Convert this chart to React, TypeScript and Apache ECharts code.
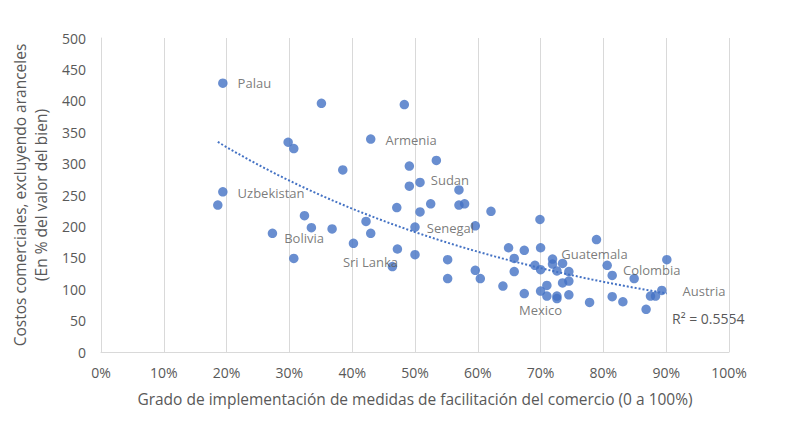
import React, { useEffect, useRef } from "react";
import * as echarts from "echarts";

// Grado de implementación (%) per country/point
const xs = [
  19.4, 35.1, 29.8, 30.7, 42.95, 38.5, 19.4, 18.6, 32.4, 33.5, 36.8, 27.3, 42.2, 42.95, 47.1,
  48.3, 49.1, 53.4, 49.1, 50.8, 57.0, 50.8, 52.5, 57.0, 57.9, 62.1, 69.9, 50.0, 59.6, 40.2,
  30.7, 47.2, 50.0, 46.4, 55.2, 55.2, 59.6, 60.4, 64.0, 64.9, 65.8, 65.8, 67.4, 67.4, 70.0,
  69.1, 70.0, 70.0, 71.0, 71.0, 71.9, 71.9, 72.6, 72.6, 72.6, 73.5, 74.5, 73.5, 74.5, 74.5,
  77.8, 78.9, 80.6, 81.4, 81.4, 83.1, 84.9, 86.8, 87.5, 88.3, 89.3, 90.1,
];
// Costos comerciales (% del valor del bien)
const ys = [
  428, 396, 334, 324, 339, 290, 255, 234, 217, 198, 196, 189, 208, 189, 230,
  394, 296, 305, 264, 270, 258, 223, 236, 234, 236, 224, 211, 199, 201, 173,
  149, 164, 155, 136, 147, 117, 130, 117, 105, 166, 149, 128, 162, 93, 166,
  138, 131, 97, 106, 89, 148, 140, 129, 89, 85, 141, 128, 110, 113, 91,
  79, 179, 138, 122, 88, 80, 117, 68, 89, 89, 98, 147,
];
// Point labels (empty = no label)
const names = [
  "Palau", "", "", "", "Armenia", "", "Uzbekistan", "", "", "", "", "Bolivia", "", "", "",
  "", "", "", "", "Sudan", "", "", "", "", "", "", "", "Senegal", "", "Sri Lanka",
  "", "", "", "", "", "", "", "", "", "", "", "", "", "", "",
  "", "", "Mexico", "", "", "Guatemala", "", "", "", "", "", "", "", "", "",
  "", "", "", "Colombia", "", "", "", "", "", "", "Austria", "",
];
const xTicks = [0, 10, 20, 30, 40, 50, 60, 70, 80, 90, 100];
const yTicks = [0, 50, 100, 150, 200, 250, 300, 350, 400, 450, 500];
const r2Text = "R² = 0.5554";
const xTitle = "Grado de implementación de medidas de facilitación del comercio (0 a 100%)";
const yTitle = "Costos comerciales, excluyendo aranceles\n(En % del valor del bien)";

// label placement (style, not data)
const labelOffsets: Record<string, { position: any; offset: number[] }> = {
  Palau: { position: "right", offset: [5, 0] },
  Armenia: { position: "right", offset: [5, 1] },
  Uzbekistan: { position: "right", offset: [5, 1] },
  Bolivia: { position: "right", offset: [2, 5] },
  Sudan: { position: "right", offset: [1, -2] },
  Senegal: { position: "right", offset: [2, 1] },
  "Sri Lanka": { position: "bottom", offset: [17, 2] },
  Mexico: { position: "bottom", offset: [0, 3] },
  Guatemala: { position: "right", offset: [-1, -5] },
  Colombia: { position: "right", offset: [1, -5] },
  Austria: { position: "right", offset: [11, 1] },
};

const BLUE = "#4472C4";
const GREY = "#595959";
const FONT = "'Open Sans', 'Segoe UI', sans-serif";

export default function App() {
  const ref = useRef<HTMLDivElement>(null);
  useEffect(() => {
    document.body.style.margin = "0";
    if (!ref.current) return;
    const chart = echarts.init(ref.current, null, { renderer: "svg" });

    // exponential trendline fitted from the data (ln y = ln a + b x)
    const n = xs.length;
    let sx = 0, sy = 0, sxx = 0, sxy = 0;
    for (let i = 0; i < n; i++) {
      const ly = Math.log(ys[i]);
      sx += xs[i]; sy += ly; sxx += xs[i] * xs[i]; sxy += xs[i] * ly;
    }
    const b = (n * sxy - sx * sy) / (n * sxx - sx * sx);
    const lnA = (sy - b * sx) / n;
    const xMin = Math.min(...xs), xMax = Math.max(...xs);
    const trend: number[][] = [];
    for (let k = 0; k <= 60; k++) {
      const x = xMin + ((xMax - xMin) * k) / 60;
      trend.push([x, Math.exp(lnA + b * x)]);
    }

    const points = xs.map((x, i) => {
      const nm = names[i];
      const item: any = { value: [x, ys[i]], name: nm };
      if (nm) {
        const lo = labelOffsets[nm];
        item.label = {
          show: true,
          formatter: nm,
          position: lo.position,
          offset: lo.offset,
          color: GREY,
          fontSize: 13,
          fontFamily: FONT,
        };
      }
      return item;
    });

    chart.setOption({
      animation: false,
      backgroundColor: "#ffffff",
      grid: { left: 101, right: 58, top: 38, bottom: 79, containLabel: false, outerBoundsMode: "none" },
      xAxis: {
        type: "value",
        min: xTicks[0],
        max: xTicks[xTicks.length - 1],
        interval: 10,
        name: xTitle,
        nameLocation: "middle",
        nameGap: 39,
        nameTextStyle: { color: GREY, fontSize: 15.5, fontFamily: FONT },
        axisLine: { show: true, lineStyle: { color: "#d9d9d9", width: 1 } },
        axisTick: { show: false },
        axisLabel: { color: GREY, fontSize: 14, fontFamily: FONT, margin: 13, formatter: (v: number) => v + "%" },
        splitLine: { show: true, lineStyle: { color: "#d9d9d9", width: 1 } },
      },
      yAxis: {
        type: "value",
        min: yTicks[0],
        max: yTicks[yTicks.length - 1],
        interval: 50,
        name: yTitle,
        nameLocation: "middle",
        nameRotate: 90,
        nameGap: 41,
        nameTextStyle: { color: GREY, fontSize: 15.5, fontFamily: FONT, lineHeight: 21, align: "center" },
        axisLine: { show: true, lineStyle: { color: "#d9d9d9", width: 1 } },
        axisTick: { show: false },
        axisLabel: { color: GREY, fontSize: 14, fontFamily: FONT, margin: 15 },
        splitLine: { show: false },
      },
      series: [
        {
          type: "line",
          data: trend,
          showSymbol: false,
          symbol: "none",
          smooth: false,
          lineStyle: { color: BLUE, width: 2, type: [2, 2] },
          silent: true,
          z: 1,
        },
        {
          type: "scatter",
          data: points,
          symbol: "circle",
          symbolSize: 9.5,
          itemStyle: { color: BLUE },
          z: 3,
        },
      ],
      graphic: [
        {
          type: "text",
          left: 672,
          top: 311,
          style: { text: r2Text, fill: GREY, fontSize: 14, fontFamily: FONT },
        },
      ],
    });
    return () => chart.dispose();
  }, []);
  return <div ref={ref} style={{ width: 787, height: 431 }} />;
}
